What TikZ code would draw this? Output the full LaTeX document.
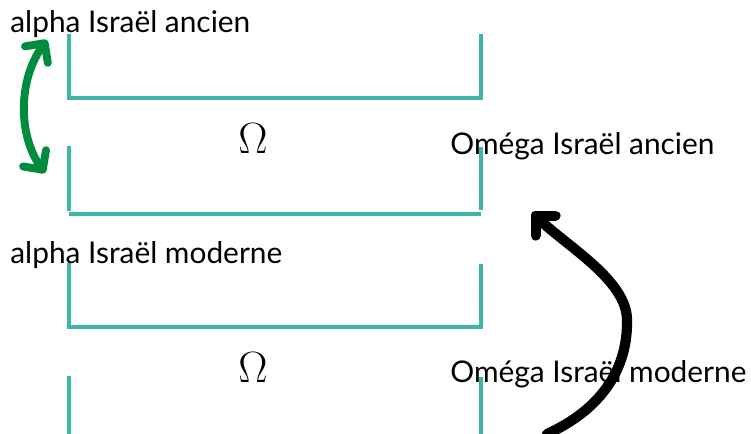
\documentclass[tikz,border=0pt]{standalone}
\usepackage{fontspec}
\setmainfont{Lato}
\usetikzlibrary{arrows.meta}
\definecolor{bracketteal}{RGB}{62,181,168}
\definecolor{arrowgreen}{RGB}{0,140,60}
\tikzset{
  brk/.style={bracketteal, line width=2.1pt},
  lbl/.style={anchor=base west, inner sep=0pt, font=\fontsize{17}{20}\selectfont},
  omg/.style={anchor=base, inner sep=0pt, font=\fontsize{30}{32}\selectfont},
  hand/.style={line width=#1, line cap=round, line join=round}
}
\begin{document}
\begin{tikzpicture}[x=0.2mm, y=-0.2mm]
\useasboundingbox (0,0) rectangle (751,434);
% ancien
\draw[brk] (69,34) -- (69,98) -- (481,98) -- (481,34);
\draw[brk] (69,146) -- (69,211);
\draw[brk] (481,147) -- (481,210);
\draw[brk] (69,214) -- (481,214);
% moderne
\draw[brk] (69,263) -- (69,327) -- (481,327) -- (481,264);
\draw[brk] (69,376) -- (69,434);
\draw[brk] (481,377) -- (481,434);
\node[lbl] (aancien) at (10,33) {alpha Israël ancien};
\node[lbl] (oancien) at (450,155) {Oméga Israël ancien};
\node[lbl] (amoderne) at (10,264) {alpha Israël moderne};
\node[lbl] (omoderne) at (450,383) {Oméga Israël moderne};
\node[omg] (om1) at (253,154) {$\Omega$};
\node[omg] (om2) at (253,383) {$\Omega$};
% arrows
\coordinate (gtop) at (47,40);
\coordinate (gbot) at (45,173);
\coordinate (kbot) at (547,434);
\coordinate (kmid) at (627,320);
\coordinate (ktop) at (532,212);
\draw[arrowgreen, hand=4.5pt, {Straight Barb[length=8pt,width=16pt,round]}-{Straight Barb[length=8pt,width=16pt,round]}]
  (gtop) .. controls (18,80) and (18,135) .. (gbot);
\draw[black, hand=5.8pt, -{Straight Barb[length=8pt,width=16pt,round]}]
  (kbot) .. controls (600,410) and (628,370) .. (kmid)
  .. controls (627,280) and (565,245) .. (ktop);
\end{tikzpicture}
\end{document}
